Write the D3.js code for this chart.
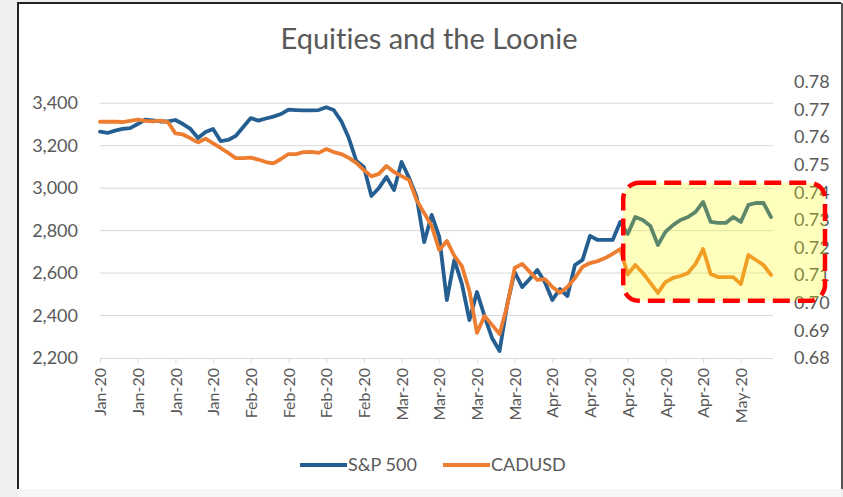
<!DOCTYPE html>
<html>
<head>
<meta charset="utf-8">
<script src="https://cdn.jsdelivr.net/npm/d3@7"></script>
<style>
    body { margin: 0; background: #efefef; }
    svg { display: block; }
    text { font-variant-ligatures: none; }
</style>
</head>
<body>
<div id="chart"></div>
<script>
// S&P 500 daily closes
const spx = [3266, 3260, 3271, 3279, 3283, 3302, 3323, 3319, 3314, 3314,
    3321, 3302, 3279, 3236, 3264, 3279, 3222, 3227, 3246, 3288,
    3330, 3318, 3328, 3337, 3349, 3370, 3368, 3366, 3366, 3368,
    3381, 3368, 3316, 3236, 3128, 3100, 2963, 3001, 3053, 2991,
    3123, 3048, 2958, 2746, 2874, 2770, 2473, 2662, 2549, 2379,
    2511, 2398, 2294, 2233, 2450, 2605, 2534, 2572, 2615, 2558,
    2473, 2525, 2492, 2638, 2662, 2775, 2756, 2756, 2756, 2841,
    2784, 2864, 2850, 2822, 2732, 2794, 2826, 2850, 2864, 2888,
    2935, 2841, 2836, 2836, 2864, 2841, 2921, 2930, 2930, 2864]

// CADUSD, same days
const cad = [0.7656, 0.7656, 0.7656, 0.7655, 0.7659, 0.7664, 0.7659, 0.7657, 0.7660, 0.7655,
    0.7614, 0.7610, 0.7596, 0.7581, 0.7595, 0.7578, 0.7561, 0.7543, 0.7524, 0.7524,
    0.7526, 0.7519, 0.7510, 0.7505, 0.7521, 0.7539, 0.7539, 0.7546, 0.7547, 0.7543,
    0.7557, 0.7546, 0.7539, 0.7525, 0.7507, 0.7481, 0.7458, 0.7467, 0.7496, 0.7474,
    0.7459, 0.7445, 0.7372, 0.7325, 0.7278, 0.7191, 0.7224, 0.7170, 0.7133, 0.7043,
    0.6891, 0.6952, 0.6920, 0.6887, 0.6988, 0.7126, 0.7141, 0.7112, 0.7083, 0.7086,
    0.7057, 0.7036, 0.7057, 0.7090, 0.7130, 0.7144, 0.7151, 0.7162, 0.7177, 0.7195,
    0.7103, 0.7137, 0.7108, 0.7072, 0.7036, 0.7075, 0.7090, 0.7097, 0.7108, 0.7141,
    0.7195, 0.7104, 0.7093, 0.7093, 0.7093, 0.7068, 0.7173, 0.7155, 0.7137, 0.7101]

// one label every 5 points
const tickLabels = ['Jan-20', 'Jan-20', 'Jan-20', 'Jan-20', 'Feb-20', 'Feb-20', 'Feb-20', 'Feb-20',
    'Mar-20', 'Mar-20', 'Mar-20', 'Mar-20', 'Apr-20', 'Apr-20', 'Apr-20', 'Apr-20', 'Apr-20', 'May-20']
const labelStep = 5

const leftTicks = [2200, 2400, 2600, 2800, 3000, 3200, 3400]
const rightTicks = [0.68, 0.69, 0.70, 0.71, 0.72, 0.73, 0.74, 0.75, 0.76, 0.77, 0.78]

const series = [
    { name: 'S&P 500', values: spx, color: '#255e91', axis: 'left' },
    { name: 'CADUSD', values: cad, color: '#ed7d31', axis: 'right' }
]

const W = 843
const H = 497
const plot = { left: 100, right: 773, top: 82, bottom: 358 }
const font = 'Lato, "Open Sans", sans-serif'
const textColor = '#595959'

const svg = d3.select('#chart')
    .append('svg')
    .attr('width', W)
    .attr('height', H)

// chart frame
svg.append('rect')
    .attr('x', 0).attr('y', 0)
    .attr('width', W).attr('height', H)
    .style('fill', '#efefef')
svg.append('rect')
    .attr('x', 18).attr('y', 3)
    .attr('width', 823).attr('height', 486)
    .style('fill', '#fff')
svg.append('path')
    .attr('d', `M18,489 V3 H841`)
    .style('fill', 'none')
    .style('stroke', '#222')
    .style('stroke-width', 2)
svg.append('line')
    .attr('x1', 842).attr('x2', 842).attr('y1', 3).attr('y2', 489)
    .style('stroke', '#555')
    .style('stroke-width', 2)
svg.append('rect')
    .attr('x', 18).attr('y', 489)
    .attr('width', 823).attr('height', 8)
    .style('fill', '#f6f6f6')

const x = d3.scaleLinear()
    .domain([0, spx.length - 1])
    .range([plot.left, 771])

const yLeft = d3.scaleLinear()
    .domain([2200, 3500])
    .range([plot.bottom, plot.top])

const yRight = d3.scaleLinear()
    .domain([0.68, 0.78])
    .range([plot.bottom, plot.top])

// title
svg.append('text')
    .attr('x', 429)
    .attr('y', 49)
    .text('Equities and the Loonie')
    .style('font-family', font)
    .style('font-size', '29px')
    .style('fill', textColor)
    .style('text-anchor', 'middle')

// gridlines
svg.append('g')
    .selectAll('line')
    .data(leftTicks.slice(1))
    .join('line')
    .attr('x1', plot.left)
    .attr('x2', plot.right)
    .attr('y1', d => yLeft(d))
    .attr('y2', d => yLeft(d))
    .style('stroke', '#d9d9d9')
    .style('stroke-width', 1)

// left axis
const leftAxis = svg.append('g')
    .attr('transform', `translate(${plot.left - 19}, 0)`)
    .call(d3.axisLeft(yLeft).tickValues(leftTicks).tickFormat(d3.format(',')).tickSize(0))
leftAxis.select('.domain').remove()

// right axis
const rightAxis = svg.append('g')
    .attr('transform', `translate(${plot.right + 18}, 0)`)
    .call(d3.axisRight(yRight).tickValues(rightTicks).tickFormat(d3.format('.2f')).tickSize(0))
rightAxis.select('.domain').remove()

svg.selectAll('.tick text')
    .style('font-family', font)
    .style('font-size', '18px')
    .style('fill', textColor)

// bottom axis
const bottomAxis = svg.append('g')
    .attr('transform', `translate(0, ${plot.bottom})`)
    .call(d3.axisBottom(x)
        .tickValues(d3.range(0, spx.length, labelStep))
        .tickFormat(i => tickLabels[i / labelStep])
        .tickSize(5)
        .tickSizeOuter(0))
bottomAxis.select('.domain')
    .attr('d', `M${plot.left},0.5H${plot.right}`)
    .style('stroke', '#d9d9d9')
bottomAxis.selectAll('.tick line')
    .style('stroke', '#d9d9d9')
bottomAxis.selectAll('.tick text')
    .attr('transform', 'rotate(-90)')
    .attr('x', -10)
    .attr('y', 0)
    .attr('dy', '0.35em')
    .style('text-anchor', 'end')
    .style('font-family', font)
    .style('font-size', '16px')
    .style('fill', textColor)

// lines
const lines = svg.append('g')
series.forEach(s => {
    const yScale = s.axis === 'left' ? yLeft : yRight
    lines.append('path')
        .datum(s.values)
        .attr('d', d3.line().x((d, i) => x(i)).y(d => yScale(d)))
        .style('fill', 'none')
        .style('stroke', s.color)
        .style('stroke-width', 3.8)
        .style('stroke-linejoin', 'round')
        .style('stroke-linecap', 'round')
})

// legend
const legend = svg.append('g')
    .attr('transform', 'translate(300, 465)')
const legendX = [0, 143]
series.forEach((s, i) => {
    const g = legend.append('g').attr('transform', `translate(${legendX[i]}, 0)`)
    g.append('line')
        .attr('x1', 0).attr('x2', 47)
        .style('stroke', s.color)
        .style('stroke-width', 3.8)
    g.append('text')
        .attr('x', 48)
        .attr('dy', '0.35em')
        .text(s.name)
        .style('font-family', font)
        .style('font-size', '18px')
        .style('fill', textColor)
})

// highlight box over the last weeks
const boxLeft = x(69.4)
const boxTop = yRight(0.7435)
const boxBottom = yRight(0.7007)
svg.append('rect')
    .attr('x', boxLeft)
    .attr('y', boxTop)
    .attr('width', 825 - boxLeft)
    .attr('height', boxBottom - boxTop)
    .attr('rx', 16)
    .style('fill', '#ffff00')
    .style('fill-opacity', 0.26)
    .style('stroke', '#ff0000')
    .style('stroke-width', 4.5)
    .style('stroke-dasharray', '17 8')
</script>
</body>
</html>
